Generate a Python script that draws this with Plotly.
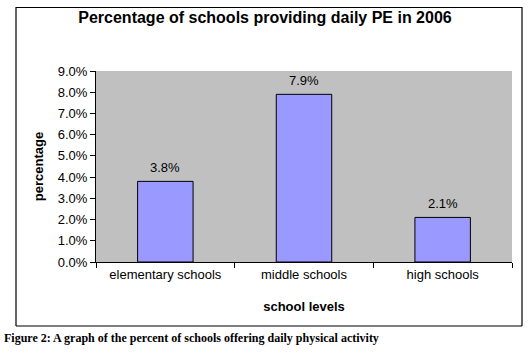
import plotly.graph_objects as go

categories = ["elementary schools", "middle schools", "high schools"]
values = [0.038, 0.079, 0.021]
labels = ["3.8%", "7.9%", "2.1%"]

W, H = 528, 356
L, R, T, B = 96, 512, 71, 262  # plot area pixel bounds

def px(x):
    return (x - L) / (R - L)

def py(y):
    return (B - y) / (B - T)

fig = go.Figure()
fig.add_trace(go.Bar(
    x=categories, y=values,
    marker=dict(color="#9999FF", line=dict(color="black", width=1)),
    hoverinfo="skip",
))

for c, v, t in zip(categories, values, labels):
    fig.add_annotation(x=c, y=v, text=t, showarrow=False, yanchor="bottom",
                       yshift=4, font=dict(family="Liberation Sans, Arial", size=13, color="black"))

fig.add_annotation(xref="paper", yref="paper", x=px(2), y=py(338), xanchor="left", yanchor="middle",
                   text="<b>Figure 2: A graph of the percent of schools offering daily physical activity</b>",
                   showarrow=False, font=dict(family="Liberation Serif, Times New Roman", size=12, color="black"))

box = [((16, 7.5), (522, 7.5)), ((522, 7), (522, 326)), ((522, 326), (16, 326)), ((16, 326), (16, 7))]
for (xa, ya), (xb, yb) in box:
    fig.add_shape(type="line", xref="paper", yref="paper",
                  x0=px(xa), y0=py(ya), x1=px(xb), y1=py(yb),
                  line=dict(color="black", width=1.2), layer="above")

fig.update_layout(
    width=W, height=H,
    margin=dict(l=L, r=W - R, t=T, b=H - B),
    paper_bgcolor="white",
    plot_bgcolor="#C0C0C0",
    bargap=0.6,
    showlegend=False,
    font=dict(family="Liberation Sans, Arial", size=13, color="black"),
    title=dict(text="<b>Percentage of schools providing daily PE in 2006</b>",
               x=265 / W, xanchor="center", y=1 - 17 / H, yanchor="middle",
               font=dict(family="Liberation Sans, Arial", size=16, color="black")),
    xaxis=dict(
        showline=True, linecolor="black", linewidth=1,
        ticks="outside", ticklen=5, tickcolor="black", tickson="boundaries",
        showgrid=False,
        title=dict(text="<b>school levels</b>", standoff=21,
                   font=dict(size=13)),
        tickfont=dict(size=13),
    ),
    yaxis=dict(
        range=[0, 0.09], dtick=0.01, tickformat=".1%",
        showline=True, linecolor="black", linewidth=1,
        ticks="outside", ticklen=5, tickcolor="black",
        showgrid=False, zeroline=False,
        title=dict(text="<b>percentage</b>", standoff=11, font=dict(size=13)),
        tickfont=dict(size=13),
    ),
)

fig.write_html("out.html", config={"displayModeBar": False},
               post_script="document.body.style.margin='0';document.body.style.overflow='hidden';window.scrollTo(0,0);")
